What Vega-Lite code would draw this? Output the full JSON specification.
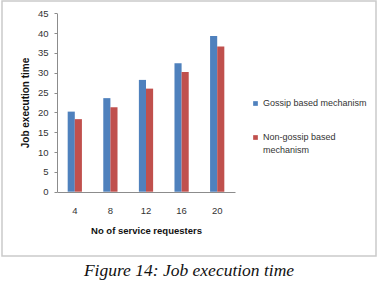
{
  "$schema": "https://vega.github.io/schema/vega-lite/v6.json",
  "width": 374,
  "height": 255,
  "autosize": "none",
  "padding": {"left": 2, "top": 1, "right": 16, "bottom": 32},
  "background": "white",
  "config": {
    "view": {"stroke": "#cacaca", "strokeWidth": 1.5},
    "font": "Liberation Sans"
  },
  "title": {
    "text": "Figure 14: Job execution time",
    "orient": "bottom",
    "anchor": "middle",
    "font": "Liberation Serif",
    "fontStyle": "italic",
    "fontWeight": "normal",
    "fontSize": 17.5,
    "color": "#111111",
    "offset": 6
  },
  "data": {
    "values": [
      {"requesters": 4, "mechanism": "Gossip based mechanism", "time": 20.2},
      {"requesters": 4, "mechanism": "Non-gossip based mechanism", "time": 18.3},
      {"requesters": 8, "mechanism": "Gossip based mechanism", "time": 23.6},
      {"requesters": 8, "mechanism": "Non-gossip based mechanism", "time": 21.3},
      {"requesters": 12, "mechanism": "Gossip based mechanism", "time": 28.2},
      {"requesters": 12, "mechanism": "Non-gossip based mechanism", "time": 26.0},
      {"requesters": 16, "mechanism": "Gossip based mechanism", "time": 32.4},
      {"requesters": 16, "mechanism": "Non-gossip based mechanism", "time": 30.2},
      {"requesters": 20, "mechanism": "Gossip based mechanism", "time": 39.3},
      {"requesters": 20, "mechanism": "Non-gossip based mechanism", "time": 36.6}
    ]
  },
  "mark": {"type": "bar"},
  "encoding": {
    "x": {
      "field": "requesters",
      "type": "ordinal",
      "scale": {"range": [55, 233], "paddingInner": 0.6, "paddingOuter": 0.3},
      "axis": {
        "title": "No of service requesters",
        "offset": -64,
        "labelAngle": 0,
        "labelFontSize": 9.5,
        "labelColor": "#333333",
        "labelPadding": 13,
        "ticks": false,
        "domainColor": "#8c8c8c",
        "titleFontSize": 9.5,
        "titleFontWeight": "bold",
        "titleColor": "#111111",
        "titlePadding": 11
      }
    },
    "xOffset": {
      "field": "mechanism",
      "sort": ["Gossip based mechanism", "Non-gossip based mechanism"]
    },
    "y": {
      "field": "time",
      "type": "quantitative",
      "scale": {"domain": [0, 45], "range": [190.7, 12.3], "nice": false},
      "axis": {
        "title": "Job execution time",
        "offset": -55,
        "values": [0, 5, 10, 15, 20, 25, 30, 35, 40, 45],
        "grid": false,
        "tickSize": 3,
        "tickColor": "#8c8c8c",
        "domainColor": "#8c8c8c",
        "labelFontSize": 9.5,
        "labelColor": "#333333",
        "labelPadding": 6,
        "titleFontSize": 10,
        "titleFontWeight": "bold",
        "titleColor": "#111111",
        "titlePadding": 7
      }
    },
    "color": {
      "field": "mechanism",
      "type": "nominal",
      "sort": ["Gossip based mechanism", "Non-gossip based mechanism"],
      "scale": {"range": ["#4f81bd", "#c0504d"]},
      "legend": {
        "title": null,
        "orient": "none",
        "legendX": 249,
        "legendY": 98,
        "symbolType": "square",
        "symbolSize": 22,
        "symbolStrokeWidth": 0,
        "labelFontSize": 9,
        "labelColor": "#333333",
        "labelOffset": 3,
        "rowPadding": 24,
        "labelBaseline": "top",
        "labelExpr": "datum.label == 'Non-gossip based mechanism' ? ['Non-gossip based', 'mechanism'] : datum.label",
        "encode": {
          "labels": {
            "update": {
              "dy": {"value": -5},
              "lineHeight": {"value": 13}
            }
          }
        }
      }
    }
  }
}
